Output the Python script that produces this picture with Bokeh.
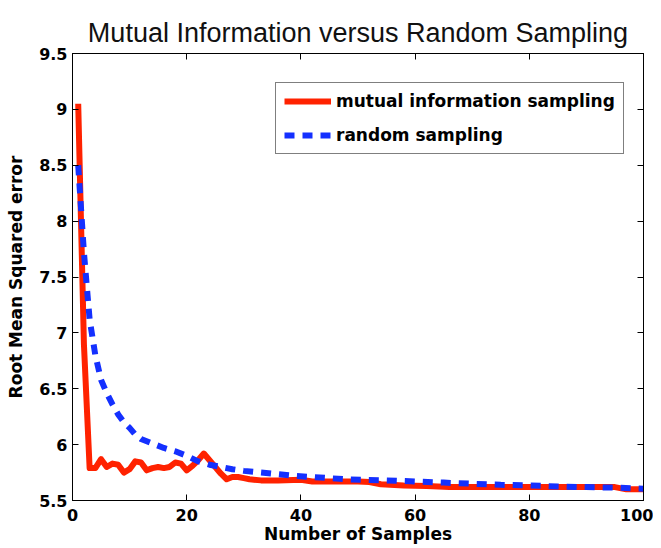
from bokeh.plotting import figure
from bokeh.models import Range1d, FixedTicker, LinearAxis, Legend, LegendItem
from bokeh.embed import file_html
from bokeh.resources import INLINE

# ---- data ----
mi_x = [1, 2, 3, 4, 5, 6, 7, 8, 9, 10, 11, 12, 13, 14, 15, 16, 17, 18, 19, 20,
        21, 22, 23, 24, 25, 26, 27, 28, 29, 30, 31, 33, 36, 40, 42, 46, 50, 52,
        54, 58, 62, 66, 70, 75, 80, 85, 90, 95, 97, 100]
mi_y = [9.05, 6.9, 5.79, 5.79, 5.87, 5.80, 5.83, 5.82, 5.75, 5.78, 5.85, 5.84,
        5.77, 5.79, 5.80, 5.79, 5.80, 5.84, 5.83, 5.77, 5.81, 5.86, 5.92, 5.86,
        5.80, 5.74, 5.69, 5.71, 5.71, 5.70, 5.69, 5.68, 5.68, 5.685, 5.67, 5.67,
        5.67, 5.665, 5.645, 5.635, 5.63, 5.62, 5.62, 5.62, 5.62, 5.62, 5.62,
        5.62, 5.60, 5.60]

rand_x = [1, 2, 3, 4, 5, 6, 7, 8, 9, 10, 11, 12, 14, 16, 18, 20, 22, 24, 26,
          28, 30, 33, 36, 39, 42, 45, 48, 51, 55, 60, 65, 70, 75, 80, 85, 90,
          95, 100]
rand_y = [8.50, 7.72, 7.12, 6.80, 6.58, 6.46, 6.36, 6.27, 6.20, 6.15, 6.09,
          6.05, 6.01, 5.97, 5.94, 5.90, 5.85, 5.82, 5.80, 5.78, 5.765, 5.75,
          5.735, 5.72, 5.71, 5.70, 5.69, 5.685, 5.68, 5.67, 5.66, 5.65, 5.64,
          5.635, 5.625, 5.62, 5.615, 5.605]

x_ticks = [0, 20, 40, 60, 80, 100]
x_tick_labels = ["0", "20", "40", "60", "80", "100"]
y_ticks = [5.5, 6, 6.5, 7, 7.5, 8, 8.5, 9, 9.5]
y_tick_labels = ["5.5", "6", "6.5", "7", "7.5", "8", "8.5", "9", "9.5"]

title_text = "Mutual Information versus Random Sampling"
x_label = "Number of Samples"
y_label = "Root Mean Squared error"
series_names = ["mutual information sampling", "random sampling"]

RED = "#ff2200"
BLUE = "#1430ff"
TICK_FONT = "DejaVu Sans"

p = figure(width=653, height=548, output_backend="svg", toolbar_location=None,
           x_range=Range1d(0, 100), y_range=Range1d(5.5, 9.5),
           min_border_left=72, min_border_right=10, min_border_top=53,
           min_border_bottom=48)

p.xgrid.visible = False
p.ygrid.visible = False
p.outline_line_color = "black"
p.outline_line_width = 1
p.background_fill_color = "white"
p.border_fill_color = "white"

p.title.text = title_text
p.title.text_font = "Liberation Sans"
p.title.text_font_size = "27px"
p.title.text_font_style = "normal"
p.title.text_color = "#111111"
p.title.align = "center"
p.title.standoff = 12


def style_axis(ax, ticks, labels, show_labels):
    ax.ticker = FixedTicker(ticks=ticks)
    ax.major_tick_in = 6
    ax.major_tick_out = 0
    ax.minor_tick_in = 0
    ax.minor_tick_out = 0
    ax.axis_line_color = "black"
    ax.major_tick_line_color = "black"
    if show_labels:
        ax.major_label_overrides = {t: l for t, l in zip(ticks, labels)}
        ax.major_label_text_font = TICK_FONT
        ax.major_label_text_font_style = "bold"
        ax.major_label_text_font_size = "16px"
        ax.major_label_text_color = "black"
    else:
        ax.major_label_text_color = None
        ax.major_label_text_alpha = 0
        ax.major_label_text_font_size = "1px"
        ax.major_label_standoff = 0


style_axis(p.xaxis[0], x_ticks, x_tick_labels, True)
style_axis(p.yaxis[0], y_ticks, y_tick_labels, True)
p.xaxis[0].major_label_standoff = 8
p.yaxis[0].major_label_standoff = 5

for ax in (p.xaxis[0], p.yaxis[0]):
    ax.axis_label_text_font = TICK_FONT
    ax.axis_label_text_font_style = "bold"
    ax.axis_label_text_font_size = "17px"
    ax.axis_label_text_color = "black"
p.xaxis[0].axis_label = x_label
p.yaxis[0].axis_label = y_label
p.xaxis[0].axis_label_standoff = 0
p.yaxis[0].axis_label_standoff = 10

top_axis = LinearAxis()
style_axis(top_axis, x_ticks, x_tick_labels, False)
p.add_layout(top_axis, "above")
right_axis = LinearAxis()
style_axis(right_axis, y_ticks, y_tick_labels, False)
p.add_layout(right_axis, "right")

r1 = p.line(mi_x, mi_y, line_color=RED, line_width=6, line_join="round")
r2 = p.line(rand_x, rand_y, line_color=BLUE, line_width=6,
            line_dash="10 8", line_cap="butt")

legend = Legend(items=[LegendItem(label=series_names[0], renderers=[r1]),
                       LegendItem(label=series_names[1], renderers=[r2])],
                location=(203, 346))
legend.label_text_font = TICK_FONT
legend.label_text_font_style = "bold"
legend.label_text_font_size = "17px"
legend.label_text_color = "black"
legend.glyph_width = 47
legend.glyph_height = 20
legend.label_height = 20
legend.label_standoff = 5
legend.padding = 8
legend.spacing = 14
legend.margin = 0
legend.border_line_color = "black"
legend.border_line_width = 1
legend.background_fill_color = "white"
legend.background_fill_alpha = 1.0
p.add_layout(legend)

open("out.html", "w").write(file_html(p, INLINE))
